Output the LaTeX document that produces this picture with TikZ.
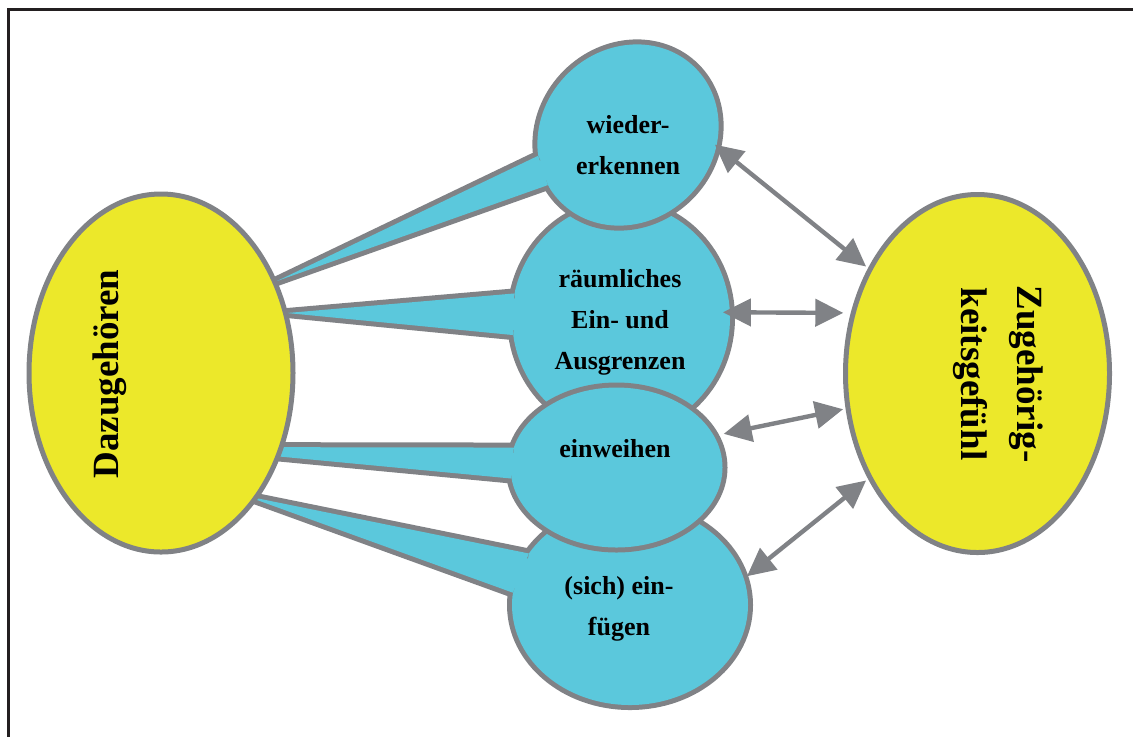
\documentclass[tikz,border=0pt]{standalone}
\usepackage{fontspec}
\setmainfont{Liberation Serif}
\usetikzlibrary{arrows.meta,shapes.geometric}
\definecolor{bubbleblue}{RGB}{91,200,220}
\definecolor{sunyellow}{RGB}{236,232,42}
\definecolor{rimgray}{RGB}{128,130,134}
\definecolor{framegray}{RGB}{35,31,32}
\begin{document}
\begin{tikzpicture}[x=0.5pt,y=-0.5pt,
  bubble/.style={ellipse, inner sep=0pt, outer sep=0pt, fill=bubbleblue,
    preaction={draw=rimgray, line width=5pt}},
  tail/.style={fill=bubbleblue,
    preaction={draw=rimgray, line width=5pt, line join=round}},
  pole/.style={ellipse, inner sep=0pt, outer sep=0pt, fill=sunyellow,
    draw=rimgray, line width=2.5pt, minimum width=132pt, minimum height=179pt},
  bubbletext/.style={align=center, inner sep=0pt,
    font=\fontsize{13}{20.5}\selectfont\bfseries},
  poletext/.style={align=center, inner sep=0pt,
    font=\fontsize{18.5}{28}\selectfont\bfseries},
  link/.style={draw=rimgray, line width=2.2pt,
    {Triangle[length=14pt,width=13.5pt]}-{Triangle[length=14pt,width=13.5pt]}}
]
\useasboundingbox (0,0) rectangle (1133,736);

% outer frame (runs off the page on the right and at the bottom)
\draw[framegray, line width=1.2pt] (8.5,9.5) rectangle (1160,770);

% points of the speech-bubble tails, near the left ellipse
\coordinate (tip1) at (277,281);
\coordinate (tip2) at (287,313);
\coordinate (tip3) at (179,447);
\coordinate (tip4) at (246,496);

% speech bubbles, back to front
\node[bubble, minimum width=109pt, minimum height=115pt] (c2) at (621,318) {};
\path[tail] (c2.167) -- (tip2) -- (c2.189);

\node[bubble, minimum width=118pt, minimum height=100pt] (c4) at (630,605) {};
\path[tail] (c4.153) -- (tip4) -- (c4.174);

% the top bubble is tilted, so its anchor angles are measured in its own frame
\node[bubble, rotate=45, minimum width=95pt, minimum height=86pt] (c1) at (628,135) {};
\path[tail] (c1.148) -- (tip1) -- (c1.167);

\node[bubble, minimum width=106pt, minimum height=80pt] (c3) at (616.5,467.5) {};
\path[tail] (c3.169) -- (tip3) -- (c3.186);

% the two yellow poles
\node[pole] (L) at (161,373) {};
\node[pole] (R) at (977.5,373.5) {};

% labels
\node[bubbletext] (t1) at (628,145) {wieder-\\erkennen};
\node[bubbletext] (t2) at (620,322.5) {räumliches\\Ein- und\\Ausgrenzen};
\node[bubbletext] (t3) at (615,449) {einweihen};
\node[bubbletext] (t4) at (619,608.5) {(sich) ein-\\fügen};
\node[poletext, rotate=90] (tL) at (110,374) {Dazugehören};
\node[poletext, rotate=-90] (tR) at (998,374) {Zugehörig-\\keitsgefühl};

% double-headed links to the right pole
\draw[link, shorten <=-1pt, shorten >=2.5pt] (c1.308) -- (R.136);
\draw[link, shorten <=-3.5pt, shorten >=5pt] (c2.3) -- (R.154);
\draw[link, shorten <=5pt, shorten >=2.5pt] (c3.18) -- (R.195);
\draw[link, shorten <=2pt, shorten >=2.5pt] (c4.13) -- (R.224);
\end{tikzpicture}
\end{document}
